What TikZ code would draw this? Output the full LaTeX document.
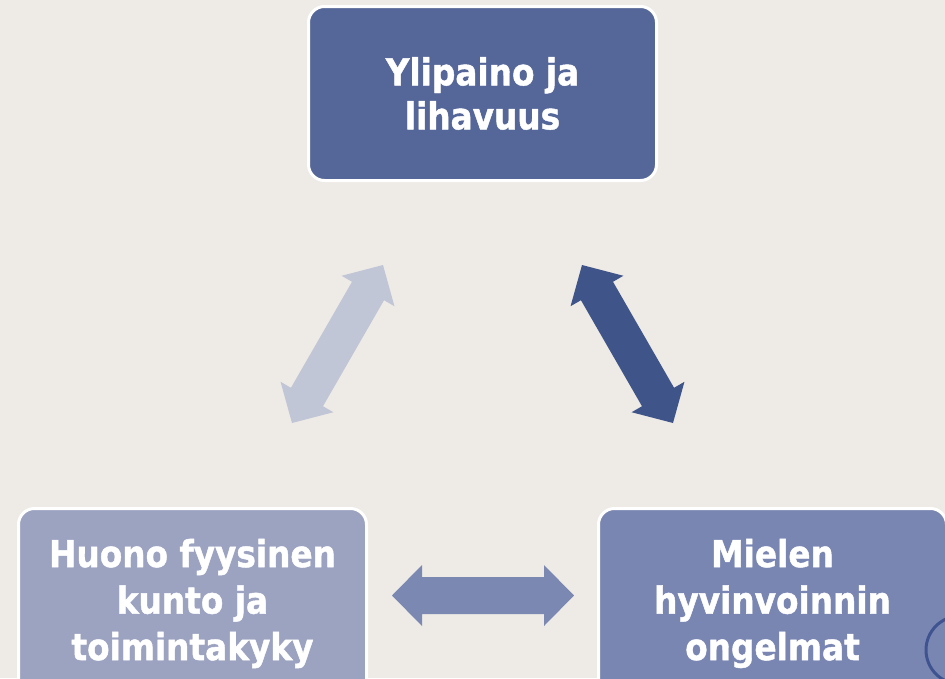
\documentclass[tikz,border=0pt]{standalone}
\usepackage{fontspec}
\newfontfamily\boxfont{DejaVu Sans}[FakeStretch=0.885,FakeBold=1.2]
\usetikzlibrary{calc}
\definecolor{bg}{HTML}{EEEBE6}
\definecolor{ctop}{HTML}{556799}
\definecolor{cleft}{HTML}{9CA3C0}
\definecolor{cright}{HTML}{7A86B2}
\definecolor{aleft}{HTML}{C1C6D6}
\definecolor{aright}{HTML}{3F5489}
\definecolor{abottom}{HTML}{7B88B2}
\definecolor{ccirc}{HTML}{3F5391}
\newcommand\dblarrow[3]{%
  \fill[#3] let \p1=(#1), \p2=(#2),
    \n1={atan2(\y2-\y1,\x2-\x1)}, \n2={veclen(\x2-\x1,\y2-\y1)} in
    [shift={(\p1)}, rotate=\n1]
    (0,0) -- (30,30.5) -- (30,18.5) -- ({\n2-30},18.5) -- ({\n2-30},30.5)
    -- (\n2,0) -- ({\n2-30},-30.5) -- ({\n2-30},-18.5) -- (30,-18.5)
    -- (30,-30.5) -- cycle;}
\begin{document}
\begin{tikzpicture}[x=1pt,y=-1pt,
  box/.style={draw=white, line width=3pt, rounded corners=16pt,
    minimum width=348pt, text=white, align=center,
    font=\boxfont\bfseries},
  topbox/.style={box, minimum height=174pt,
    font=\boxfont\bfseries\fontsize{37}{44}\selectfont},
  lowbox/.style={box, minimum height=190pt,
    font=\boxfont\bfseries\fontsize{37}{46.5}\selectfont}]
\useasboundingbox (0,0) rectangle (945,678);
\clip (0,0) rectangle (945,678);
\fill[bg] (0,0) rectangle (945,678);

\node[topbox, fill=ctop] (top) at (482.5,93.5) {Ylipaino ja\\lihavuus};
\node[lowbox, fill=cleft] (left) at (192.5,603.5) {Huono fyysinen\\kunto ja\\toimintakyky};
\node[lowbox, fill=cright] (right) at (772.5,603.5) {Mielen\\hyvinvoinnin\\ongelmat};

\coordinate (la) at (292,423);
\coordinate (lb) at (383,265);
\coordinate (ra) at (582,265);
\coordinate (rb) at (673,423);
\coordinate (ha) at (392,595.5);
\coordinate (hb) at (574,595.5);

\dblarrow{la}{lb}{aleft}
\dblarrow{ra}{rb}{aright}
\dblarrow{ha}{hb}{abottom}

\node[draw=ccirc, line width=3pt, circle, minimum size=68pt, inner sep=0pt] (pg) at (960,650) {};
\end{tikzpicture}
\end{document}
